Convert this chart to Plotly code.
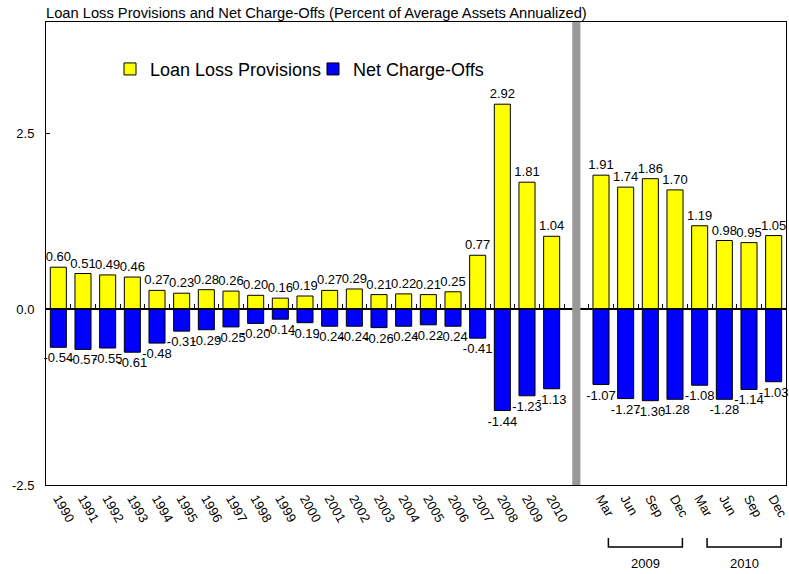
import plotly.graph_objects as go

# ---------------- data ----------------
annual_labels = [str(y) for y in range(1990, 2011)]
quarter_labels = ["Mar", "Jun", "Sep", "Dec", "Mar", "Jun", "Sep", "Dec"]
quarter_years = ["2009", "2010"]

llp_annual = [0.60, 0.51, 0.49, 0.46, 0.27, 0.23, 0.28, 0.26, 0.20, 0.16, 0.19,
              0.27, 0.29, 0.21, 0.22, 0.21, 0.25, 0.77, 2.92, 1.81, 1.04]
nco_annual = [-0.54, -0.57, -0.55, -0.61, -0.48, -0.31, -0.29, -0.25, -0.20, -0.14, -0.19,
              -0.24, -0.24, -0.26, -0.24, -0.22, -0.24, -0.41, -1.44, -1.23, -1.13]
llp_quarter = [1.91, 1.74, 1.86, 1.70, 1.19, 0.98, 0.95, 1.05]
nco_quarter = [-1.07, -1.27, -1.30, -1.28, -1.08, -1.28, -1.14, -1.03]

y_ticks = [-2.5, 0.0, 2.5]

# ---------------- positions (slot indices; one empty slot as separator) ----------------
n_a = len(annual_labels)
sep = n_a
x_annual = list(range(n_a))
x_quarter = list(range(n_a + 1, n_a + 1 + len(quarter_labels)))
x_all = x_annual + x_quarter
labels_all = annual_labels + quarter_labels
llp = llp_annual + llp_quarter
nco = nco_annual + nco_quarter
n_slots = n_a + 1 + len(quarter_labels)

FONT = "Arial, Liberation Sans, sans-serif"
y_lo, y_hi = -2.5, 4.09

fig = go.Figure()
fig.add_trace(go.Bar(
    x=x_all, y=llp, name="Loan Loss Provisions", legend="legend",
    marker=dict(color="#FFFF00", line=dict(color="#000000", width=1)),
    width=0.65, texttemplate="%{y:.2f}", textposition="outside",
    constraintext="none", cliponaxis=False,
    textfont=dict(size=13, color="#000000", family=FONT),
))
fig.add_trace(go.Bar(
    x=x_all, y=nco, name="Net Charge-Offs", legend="legend2",
    marker=dict(color="#0000FF", line=dict(color="#000000", width=1)),
    width=0.65, texttemplate="%{y:.2f}", textposition="outside",
    constraintext="none", cliponaxis=False,
    textfont=dict(size=13, color="#000000", family=FONT),
))
# invisible trace to activate the zero-line axis
fig.add_trace(go.Scatter(x=[0], y=[0], xaxis="x2", mode="markers",
                         marker=dict(opacity=0), showlegend=False, hoverinfo="skip"))

zero_pos = (0 - y_lo) / (y_hi - y_lo)

legend_common = dict(orientation="h", yanchor="middle", xanchor="left",
                     font=dict(size=18, family=FONT), bgcolor="rgba(0,0,0,0)",
                     itemwidth=30)

fig.update_layout(
    width=789, height=574,
    margin=dict(l=46, r=3, t=22, b=89, autoexpand=False),
    paper_bgcolor="white", plot_bgcolor="white",
    barmode="overlay",
    font=dict(family=FONT, size=13, color="#000000"),
    showlegend=True,
    legend=dict(x=0.0865, y=0.898, **legend_common),
    legend2=dict(x=0.3608, y=0.898, **legend_common),
    xaxis=dict(range=[-0.5, n_slots - 0.5], tickmode="array", tickvals=x_all,
               ticktext=labels_all, tickangle=60, ticks="", showgrid=False,
               zeroline=False, showline=True, linecolor="#000000", linewidth=1,
               mirror=True, ticklabeloverflow="allow", automargin=False,
               tickfont=dict(size=13, family=FONT)),
    xaxis2=dict(overlaying="x", anchor="free", position=zero_pos, side="top",
                range=[-0.5, n_slots - 0.5], tickmode="array",
                tickvals=[i + 0.5 for i in range(n_slots - 1)],
                ticks="outside", ticklen=5, tickcolor="#000000", tickwidth=1,
                showticklabels=False, showgrid=False, zeroline=False, automargin=False,
                showline=True, linecolor="#000000", linewidth=1.5),
    yaxis=dict(range=[y_lo, y_hi], tickmode="array", tickvals=y_ticks,
               ticktext=[f"{v:.1f}" for v in y_ticks], ticks="inside", ticklen=4,
               tickcolor="#000000", showgrid=False, zeroline=False, showline=True,
               linecolor="#000000", linewidth=1, mirror=True, ticklabelstandoff=8,
               automargin=False, tickfont=dict(size=13, family=FONT)),
)

# gray separator bar
fig.add_shape(type="rect", xref="x", yref="paper", x0=sep - 0.165, x1=sep + 0.165,
              y0=0, y1=1, fillcolor="#999999", line=dict(width=0), layer="above")

# title
fig.add_annotation(text="Loan Loss Provisions and Net Charge-Offs (Percent of Average Assets Annualized)",
                   xref="paper", yref="paper", x=0, y=1.0, xanchor="left", yanchor="bottom",
                   showarrow=False, font=dict(size=14.7, family=FONT), xshift=-2, yshift=-1)

# year brackets for quarterly section
for k, yr in enumerate(quarter_years):
    xs = x_quarter[k * 4: k * 4 + 4]
    x0, x1 = xs[0] + 0.3, xs[-1] + 0.3
    fig.add_shape(type="path", xref="x", yref="paper",
                  path=f"M {x0},-0.1145 L {x0},-0.134 L {x1},-0.134 L {x1},-0.1145",
                  line=dict(color="#000000", width=1.5))
    fig.add_annotation(text=yr, xref="x", yref="paper", x=(x0 + x1) / 2, y=-0.17,
                       xanchor="center", yanchor="middle", showarrow=False,
                       font=dict(size=13, family=FONT))

fig.write_html("out.html", config={"displayModeBar": False},
               post_script="document.body.style.margin='0';")
